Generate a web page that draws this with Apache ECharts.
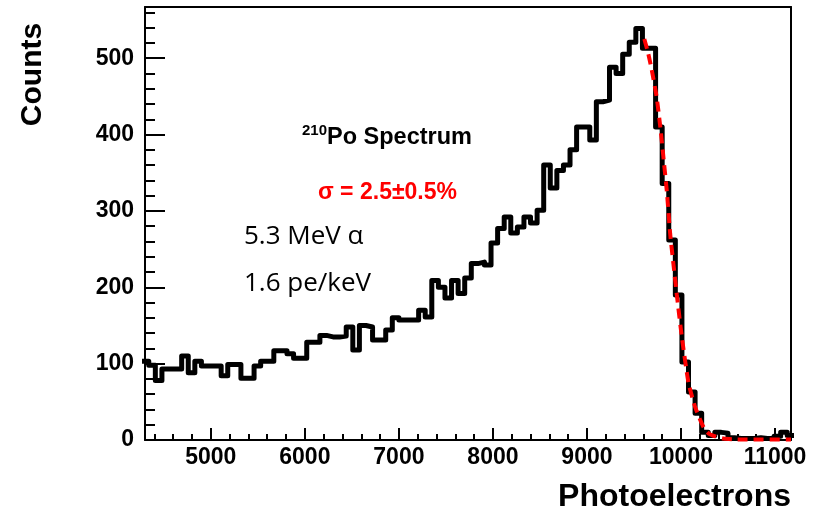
<!DOCTYPE html>
<html>
<head>
<meta charset="utf-8">
<script src="https://cdn.jsdelivr.net/npm/echarts@6/dist/echarts.min.js"></script>
<style>
  html, body { margin: 0; padding: 0; background: #fff; }
  #chart { width: 823px; height: 516px; }
</style>
</head>
<body>
<div id="chart"></div>
<script>
// histogram bins: left edge of first bin and bin width (photoelectrons)
var binStart = 4270;
var binWidth = 70;
// counts per bin
var counts = [
  103, 98, 78, 93, 93, 93, 110, 88, 103, 97,
  97, 97, 84, 99, 99, 81, 81, 97, 103, 103,
  117, 117, 113, 107, 107, 128, 128, 137, 135, 135,
  136, 148, 118, 150, 148, 131, 131, 144, 160, 157,
  157, 157, 170, 161, 209, 200, 186, 209, 192, 212,
  231, 233, 229, 258, 277, 292, 271, 279, 292, 284,
  301, 360, 330, 353, 360, 380, 410, 410, 393, 443,
  445, 488, 480, 505, 521, 539, 513, 513, 410, 336,
  262, 190, 102, 63, 35, 10, 6, 10, 9, 3,
  2, 2, 2, 3, 2, 2, 5, 10, 6
];
// red dashed fit curve
var fitX = [9610, 9650, 9690, 9740, 9780, 9820, 9850, 9885, 9920, 9956, 10009, 10080, 10151, 10239, 10300, 10382, 10450, 10550, 10700, 11170];
var fitY = [525, 507, 484, 450, 410, 362, 325, 270, 230, 190, 135, 75, 43, 17, 8, 4, 2, 1, 0.5, 0.5];

var xMin = 4300, xMax = 11170;
var yMin = 0, yMax = 567;

var histData = counts.map(function (c, i) { return [binStart + i * binWidth, c]; });
histData.push([binStart + counts.length * binWidth, counts[counts.length - 1]]);
var fitData = fitX.map(function (x, i) { return [x, fitY[i]]; });

var plain = function (v) { return String(v); };

function boldText(size, color) {
  return { fontSize: size, fontFamily: 'Liberation Sans', fontWeight: 'bold', color: color || '#000' };
}

var chart = echarts.init(document.getElementById('chart'));
chart.setOption({
  animation: false,
  title: [
    { text: '210', left: 302, top: 123.5, padding: 0, textStyle: boldText(15) },
    { text: 'Po Spectrum', left: 327, top: 126, padding: 0, textStyle: boldText(23.5) },
    { text: 'σ = 2.5±0.5%', left: 318, top: 181.5, padding: 0, textStyle: boldText(23, '#ff0000') },
    { text: '5.3 MeV α', left: 244, top: 224, padding: 0,
      textStyle: { fontSize: 26, fontFamily: 'Open Sans', fontWeight: 'normal', color: '#000' } },
    { text: '1.6 pe/keV', left: 244, top: 271, padding: 0,
      textStyle: { fontSize: 26, fontFamily: 'Open Sans', fontWeight: 'normal', color: '#000' } },
    { text: 'Photoelectrons', right: 32, top: 481, padding: 0, textStyle: boldText(32) }
  ],
  grid: { left: 145, right: 32, top: 7, bottom: 76 },
  xAxis: [
    {
      type: 'value', min: xMin, max: xMax, minInterval: 1000, maxInterval: 1000,
      axisLine: { show: true, lineStyle: { color: '#000', width: 2 } },
      axisTick: { show: true, inside: true, length: 12, lineStyle: { color: '#000', width: 2 } },
      axisLabel: {
        fontSize: 23, fontFamily: 'Liberation Sans', fontWeight: 'bold', color: '#000',
        margin: 6, showMinLabel: false, showMaxLabel: false, formatter: plain
      },
      splitLine: { show: false }
    },
    {
      // minor ticks
      type: 'value', position: 'bottom', min: xMin, max: xMax, minInterval: 200, maxInterval: 200,
      axisLine: { show: false },
      axisTick: { show: true, inside: true, length: 6, lineStyle: { color: '#000', width: 2 } },
      axisLabel: { show: false },
      splitLine: { show: false }
    },
    {
      // top frame
      type: 'value', position: 'top', min: xMin, max: xMax,
      axisLine: { show: true, onZero: false, lineStyle: { color: '#000', width: 2 } },
      axisTick: { show: false }, axisLabel: { show: false }, splitLine: { show: false }
    }
  ],
  yAxis: [
    {
      type: 'value', min: yMin, max: yMax, interval: 100,
      name: 'Counts', nameLocation: 'middle', nameRotate: 90, nameGap: 97,
      nameTextStyle: {
        fontSize: 30, fontFamily: 'Liberation Sans', fontWeight: 'bold', color: '#000',
        padding: [0, 0, 0, 298]
      },
      axisLine: { show: true, lineStyle: { color: '#000', width: 2 } },
      axisTick: { show: true, inside: true, length: 20, lineStyle: { color: '#000', width: 2 } },
      axisLabel: {
        fontSize: 23, fontFamily: 'Liberation Sans', fontWeight: 'bold', color: '#000',
        margin: 11, showMaxLabel: false, formatter: plain
      },
      splitLine: { show: false }
    },
    {
      // minor ticks
      type: 'value', position: 'left', min: yMin, max: yMax, interval: 20,
      axisLine: { show: false },
      axisTick: { show: true, inside: true, length: 10, lineStyle: { color: '#000', width: 2 } },
      axisLabel: { show: false },
      splitLine: { show: false }
    },
    {
      // right frame
      type: 'value', position: 'right', min: yMin, max: yMax,
      axisLine: { show: true, onZero: false, lineStyle: { color: '#000', width: 2 } },
      axisTick: { show: false }, axisLabel: { show: false }, splitLine: { show: false }
    }
  ],
  series: [
    {
      name: 'spectrum', type: 'line', step: 'end', xAxisIndex: 0, yAxisIndex: 0,
      data: histData, symbol: 'none', clip: true,
      lineStyle: { color: '#000', width: 5, join: 'round', cap: 'round' }
    },
    {
      name: 'fit', type: 'line', xAxisIndex: 0, yAxisIndex: 0,
      data: fitData, symbol: 'none', smooth: 0.2, clip: true,
      lineStyle: { color: '#ff0000', width: 4, type: [10, 6] }
    }
  ]
});
</script>
</body>
</html>
